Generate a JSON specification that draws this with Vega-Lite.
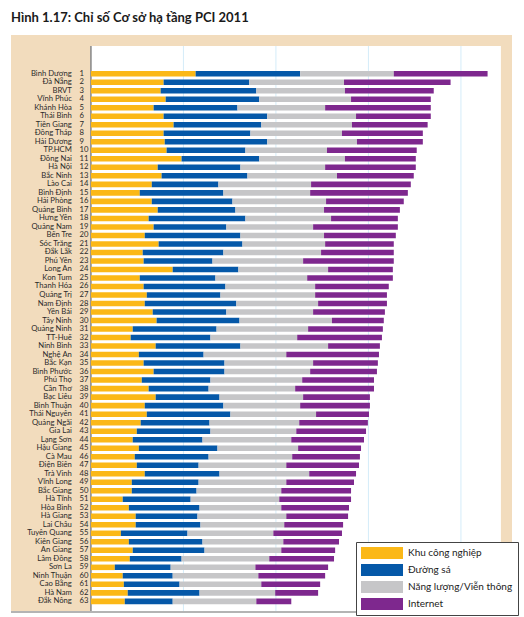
{
  "$schema": "https://vega.github.io/schema/vega-lite/v6.json",
  "autosize": {"type": "none"},
  "width": 501,
  "height": 577,
  "padding": {"left": 11, "top": 35, "right": 12, "bottom": 5},
  "background": "white",
  "title": {"text": "Hình 1.17:  Chỉ số Cơ sở hạ tầng PCI 2011", "anchor": "start", "font": "Lato", "fontSize": 13, "fontWeight": "bold", "color": "#1a1a1a", "offset": 0, "baseline": "alphabetic", "dx": 1},
  "config": {"view": {"fill": "#F2DCBD", "stroke": null}, "font": "Lato"},
  "data": {"values": [
    {"tinh": "Bình Dương", "hang": 1, "Khu công nghiệp": 5.66, "Đường sá": 5.65, "Năng lượng/Viễn thông": 5.06, "Internet": 5.07},
    {"tinh": "Đà Nẵng", "hang": 2, "Khu công nghiệp": 3.93, "Đường sá": 4.63, "Năng lượng/Viễn thông": 5.12, "Internet": 5.76},
    {"tinh": "BRVT", "hang": 3, "Khu công nghiệp": 3.77, "Đường sá": 5.17, "Năng lượng/Viễn thông": 4.79, "Internet": 4.80},
    {"tinh": "Vĩnh Phúc", "hang": 4, "Khu công nghiệp": 4.04, "Đường sá": 5.06, "Năng lượng/Viễn thông": 4.96, "Internet": 4.31},
    {"tinh": "Khánh Hòa", "hang": 5, "Khu công nghiệp": 3.39, "Đường sá": 4.53, "Năng lượng/Viễn thông": 4.74, "Internet": 5.71},
    {"tinh": "Thái Bình", "hang": 6, "Khu công nghiệp": 3.93, "Đường sá": 5.60, "Năng lượng/Viễn thông": 4.80, "Internet": 4.04},
    {"tinh": "Tiền Giang", "hang": 7, "Khu công nghiệp": 4.47, "Đường sá": 4.74, "Năng lượng/Viễn thông": 4.90, "Internet": 4.09},
    {"tinh": "Đồng Tháp", "hang": 8, "Khu công nghiệp": 3.93, "Đường sá": 4.69, "Năng lượng/Viễn thông": 4.95, "Internet": 4.37},
    {"tinh": "Hải Dương", "hang": 9, "Khu công nghiệp": 3.99, "Đường sá": 5.54, "Năng lượng/Viễn thông": 4.85, "Internet": 3.56},
    {"tinh": "TP.HCM", "hang": 10, "Khu công nghiệp": 4.09, "Đường sá": 4.26, "Năng lượng/Viễn thông": 4.41, "Internet": 4.85},
    {"tinh": "Đồng Nai", "hang": 11, "Khu công nghiệp": 4.90, "Đường sá": 4.20, "Năng lượng/Viễn thông": 4.63, "Internet": 3.83},
    {"tinh": "Hà Nội", "hang": 12, "Khu công nghiệp": 3.61, "Đường sá": 4.47, "Năng lượng/Viễn thông": 4.58, "Internet": 4.90},
    {"tinh": "Bắc Ninh", "hang": 13, "Khu công nghiệp": 3.82, "Đường sá": 4.64, "Năng lượng/Viễn thông": 4.84, "Internet": 4.15},
    {"tinh": "Lào Cai", "hang": 14, "Khu công nghiệp": 3.29, "Đường sá": 3.60, "Năng lượng/Viễn thông": 5.01, "Internet": 5.39},
    {"tinh": "Bình Định", "hang": 15, "Khu công nghiệp": 2.64, "Đường sá": 4.52, "Năng lượng/Viễn thông": 4.69, "Internet": 5.28},
    {"tinh": "Hải Phòng", "hang": 16, "Khu công nghiệp": 3.29, "Đường sá": 4.36, "Năng lượng/Viễn thông": 5.06, "Internet": 4.20},
    {"tinh": "Quảng Bình", "hang": 17, "Khu công nghiệp": 3.61, "Đường sá": 4.20, "Năng lượng/Viễn thông": 4.79, "Internet": 4.10},
    {"tinh": "Hưng Yên", "hang": 18, "Khu công nghiệp": 3.12, "Đường sá": 5.23, "Năng lượng/Viễn thông": 4.63, "Internet": 3.61},
    {"tinh": "Quảng Nam", "hang": 19, "Khu công nghiệp": 3.39, "Đường sá": 3.93, "Năng lượng/Viễn thông": 4.69, "Internet": 4.58},
    {"tinh": "Bến Tre", "hang": 20, "Khu công nghiệp": 2.91, "Đường sá": 5.17, "Năng lượng/Viễn thông": 4.52, "Internet": 3.88},
    {"tinh": "Sóc Trăng", "hang": 21, "Khu công nghiệp": 3.66, "Đường sá": 4.53, "Năng lượng/Viễn thông": 4.47, "Internet": 3.71},
    {"tinh": "Đắk Lắk", "hang": 22, "Khu công nghiệp": 2.80, "Đường sá": 4.36, "Năng lượng/Viễn thông": 5.28, "Internet": 3.93},
    {"tinh": "Phú Yên", "hang": 23, "Khu công nghiệp": 2.85, "Đường sá": 3.72, "Năng lượng/Viễn thông": 4.90, "Internet": 4.90},
    {"tinh": "Long An", "hang": 24, "Khu công nghiệp": 4.42, "Đường sá": 3.55, "Năng lượng/Viễn thông": 4.85, "Internet": 3.50},
    {"tinh": "Kon Tum", "hang": 25, "Khu công nghiệp": 2.64, "Đường sá": 4.09, "Năng lượng/Viễn thông": 4.96, "Internet": 4.63},
    {"tinh": "Thanh Hóa", "hang": 26, "Khu công nghiệp": 2.85, "Đường sá": 4.42, "Năng lượng/Viễn thông": 4.85, "Internet": 3.98},
    {"tinh": "Quảng Trị", "hang": 27, "Khu công nghiệp": 3.02, "Đường sá": 3.98, "Năng lượng/Viễn thông": 5.12, "Internet": 3.88},
    {"tinh": "Nam Định", "hang": 28, "Khu công nghiệp": 2.91, "Đường sá": 4.95, "Năng lượng/Viễn thông": 4.42, "Internet": 3.72},
    {"tinh": "Yên Bái", "hang": 29, "Khu công nghiệp": 3.34, "Đường sá": 3.98, "Năng lượng/Viễn thông": 4.69, "Internet": 3.88},
    {"tinh": "Tây Ninh", "hang": 30, "Khu công nghiệp": 3.55, "Đường sá": 4.48, "Năng lượng/Viễn thông": 5.00, "Internet": 2.80},
    {"tinh": "Quảng Ninh", "hang": 31, "Khu công nghiệp": 2.26, "Đường sá": 4.53, "Năng lượng/Viễn thông": 4.95, "Internet": 4.04},
    {"tinh": "TT-Huế", "hang": 32, "Khu công nghiệp": 2.15, "Đường sá": 4.31, "Năng lượng/Viễn thông": 4.69, "Internet": 4.58},
    {"tinh": "Ninh Bình", "hang": 33, "Khu công nghiệp": 3.50, "Đường sá": 4.58, "Năng lượng/Viễn thông": 4.74, "Internet": 2.80},
    {"tinh": "Nghệ An", "hang": 34, "Khu công nghiệp": 2.59, "Đường sá": 3.50, "Năng lượng/Viễn thông": 4.47, "Internet": 5.01},
    {"tinh": "Bắc Kạn", "hang": 35, "Khu công nghiệp": 2.85, "Đường sá": 4.37, "Năng lượng/Viễn thông": 4.79, "Internet": 3.50},
    {"tinh": "Bình Phước", "hang": 36, "Khu công nghiệp": 3.39, "Đường sá": 3.83, "Năng lượng/Viễn thông": 4.63, "Internet": 3.61},
    {"tinh": "Phú Thọ", "hang": 37, "Khu công nghiệp": 2.75, "Đường sá": 3.71, "Năng lượng/Viễn thông": 4.96, "Internet": 3.88},
    {"tinh": "Cần Thơ", "hang": 38, "Khu công nghiệp": 3.12, "Đường sá": 3.24, "Năng lượng/Viễn thông": 4.68, "Internet": 4.26},
    {"tinh": "Bạc Liêu", "hang": 39, "Khu công nghiệp": 3.50, "Đường sá": 3.45, "Năng lượng/Viễn thông": 4.52, "Internet": 3.61},
    {"tinh": "Bình Thuận", "hang": 40, "Khu công nghiệp": 2.91, "Đường sá": 4.25, "Năng lượng/Viễn thông": 4.15, "Internet": 3.77},
    {"tinh": "Thái Nguyên", "hang": 41, "Khu công nghiệp": 3.02, "Đường sá": 4.52, "Năng lượng/Viễn thông": 4.63, "Internet": 2.86},
    {"tinh": "Quảng Ngãi", "hang": 42, "Khu công nghiệp": 2.69, "Đường sá": 3.72, "Năng lượng/Viễn thông": 4.85, "Internet": 3.71},
    {"tinh": "Gia Lai", "hang": 43, "Khu công nghiệp": 2.48, "Đường sá": 3.98, "Năng lượng/Viễn thông": 4.64, "Internet": 3.77},
    {"tinh": "Lạng Sơn", "hang": 44, "Khu công nghiệp": 2.26, "Đường sá": 3.77, "Năng lượng/Viễn thông": 4.80, "Internet": 3.93},
    {"tinh": "Hậu Giang", "hang": 45, "Khu công nghiệp": 2.59, "Đường sá": 4.25, "Năng lượng/Viễn thông": 4.36, "Internet": 3.40},
    {"tinh": "Cà Mau", "hang": 46, "Khu công nghiệp": 2.37, "Đường sá": 3.99, "Năng lượng/Viễn thông": 4.52, "Internet": 3.66},
    {"tinh": "Điện Biên", "hang": 47, "Khu công nghiệp": 2.48, "Đường sá": 3.34, "Năng lượng/Viễn thông": 4.74, "Internet": 3.93},
    {"tinh": "Trà Vinh", "hang": 48, "Khu công nghiệp": 2.91, "Đường sá": 4.04, "Năng lượng/Viễn thông": 4.85, "Internet": 2.53},
    {"tinh": "Vĩnh Long", "hang": 49, "Khu công nghiệp": 2.21, "Đường sá": 3.61, "Năng lượng/Viễn thông": 4.74, "Internet": 3.66},
    {"tinh": "Bắc Giang", "hang": 50, "Khu công nghiệp": 2.21, "Đường sá": 3.50, "Năng lượng/Viễn thông": 4.58, "Internet": 3.77},
    {"tinh": "Hà Tĩnh", "hang": 51, "Khu công nghiệp": 1.72, "Đường sá": 3.67, "Năng lượng/Viễn thông": 4.79, "Internet": 3.88},
    {"tinh": "Hòa Bình", "hang": 52, "Khu công nghiệp": 2.05, "Đường sá": 3.82, "Năng lượng/Viễn thông": 4.42, "Internet": 3.66},
    {"tinh": "Hà Giang", "hang": 53, "Khu công nghiệp": 2.42, "Đường sá": 3.34, "Năng lượng/Viễn thông": 4.80, "Internet": 3.34},
    {"tinh": "Lai Châu", "hang": 54, "Khu công nghiệp": 2.42, "Đường sá": 3.50, "Năng lượng/Viễn thông": 4.53, "Internet": 3.18},
    {"tinh": "Tuyên Quang", "hang": 55, "Khu công nghiệp": 1.62, "Đường sá": 3.60, "Năng lượng/Viễn thông": 4.64, "Internet": 3.71},
    {"tinh": "Kiên Giang", "hang": 56, "Khu công nghiệp": 2.05, "Đường sá": 3.98, "Năng lượng/Viễn thông": 4.37, "Internet": 3.01},
    {"tinh": "An Giang", "hang": 57, "Khu công nghiệp": 2.26, "Đường sá": 3.88, "Năng lượng/Viễn thông": 4.15, "Internet": 2.91},
    {"tinh": "Lâm Đồng", "hang": 58, "Khu công nghiệp": 2.10, "Đường sá": 2.80, "Năng lượng/Viễn thông": 4.74, "Internet": 3.50},
    {"tinh": "Sơn La", "hang": 59, "Khu công nghiệp": 1.29, "Đường sá": 3.02, "Năng lượng/Viễn thông": 4.58, "Internet": 3.93},
    {"tinh": "Ninh Thuận", "hang": 60, "Khu công nghiệp": 1.72, "Đường sá": 2.70, "Năng lượng/Viễn thông": 4.63, "Internet": 3.61},
    {"tinh": "Cao Bằng", "hang": 61, "Khu công nghiệp": 1.78, "Đường sá": 3.01, "Năng lượng/Viễn thông": 4.42, "Internet": 3.18},
    {"tinh": "Hà Nam", "hang": 62, "Khu công nghiệp": 1.99, "Đường sá": 3.88, "Năng lượng/Viễn thông": 4.09, "Internet": 2.32},
    {"tinh": "Đắk Nông", "hang": 63, "Khu công nghiệp": 1.83, "Đường sá": 2.59, "Năng lượng/Viễn thông": 4.52, "Internet": 1.89}
  ]},
  "resolve": {"scale": {"y": "independent"}},
  "layer": [
    {
      "data": {"values": [{}]},
      "mark": {"type": "rect", "color": "white"},
      "encoding": {
        "x": {"datum": 0, "type": "quantitative", "scale": {"domain": [-4.32, 22.76], "nice": false, "zero": false}, "axis": null},
        "x2": {"datum": 22.16},
        "y": {"datum": 0, "type": "quantitative", "scale": {"domain": [0, 1], "nice": false, "zero": false}, "axis": null},
        "y2": {"datum": 0.981}
      }
    },
    {
      "data": {"values": [{"g": 5}, {"g": 10}, {"g": 15}, {"g": 20}]},
      "mark": {"type": "rule", "color": "#D4ECF9", "strokeWidth": 1},
      "encoding": {
        "x": {"field": "g", "type": "quantitative", "scale": {"domain": [-4.32, 22.76], "nice": false, "zero": false}, "axis": null},
        "y": {"datum": 0, "type": "quantitative", "scale": {"domain": [0, 1], "nice": false, "zero": false}, "axis": null},
        "y2": {"datum": 0.981}
      }
    },
    {
      "data": {"values": [{}]},
      "mark": {"type": "rule", "color": "#8C8C8C", "strokeWidth": 1.6},
      "encoding": {
        "x": {"datum": 0, "type": "quantitative", "scale": {"domain": [-4.32, 22.76], "nice": false, "zero": false}, "axis": null},
        "y": {"datum": 0, "type": "quantitative", "scale": {"domain": [0, 1], "nice": false, "zero": false}, "axis": null},
        "y2": {"datum": 0.981}
      }
    },
    {
      "data": {"values": [{}]},
      "mark": {"type": "rule", "color": "#B4B4B4", "strokeWidth": 2},
      "encoding": {
        "x": {"datum": -4.32, "type": "quantitative", "scale": {"domain": [-4.32, 22.76], "nice": false, "zero": false}, "axis": null},
        "x2": {"datum": 22.76},
        "y": {"datum": 0, "type": "quantitative", "scale": {"domain": [0, 1], "nice": false, "zero": false}, "axis": null}
      }
    },
    {
      "transform": [{"fold": ["Khu công nghiệp", "Đường sá", "Năng lượng/Viễn thông", "Internet"], "as": ["loai", "gt"]}],
      "mark": {"type": "bar"},
      "encoding": {
        "y": {"field": "tinh", "type": "nominal", "sort": null, "axis": null, "scale": {"type": "band", "range": [31.7, 573.4], "paddingInner": 0.35, "paddingOuter": 0.5, "align": 0.5}},
        "x": {"field": "gt", "type": "quantitative", "stack": "zero", "scale": {"domain": [-4.32, 22.76], "nice": false, "zero": false}, "axis": null},
        "order": {"field": "hang", "type": "quantitative"},
        "color": {
          "field": "loai", "type": "nominal",
          "sort": ["Khu công nghiệp", "Đường sá", "Năng lượng/Viễn thông", "Internet"],
          "scale": {"domain": ["Khu công nghiệp", "Đường sá", "Năng lượng/Viễn thông", "Internet"], "range": ["#FBB817", "#0558A8", "#C6C6C8", "#7E288E"]},
          "legend": {"title": null, "orient": "none", "legendX": 345, "legendY": 507, "fillColor": "white", "strokeColor": "#444444", "padding": 5, "symbolType": "M-1,-1H6V1H-1Z", "symbolSize": 144, "symbolStrokeWidth": 0, "symbolOpacity": 1, "labelFont": "Lato", "labelFontSize": 10, "labelColor": "#222222", "rowPadding": 5, "labelOffset": 35}
        }
      }
    },
    {
      "mark": {"type": "text", "align": "right", "baseline": "middle", "font": "Lato", "fontSize": 7.7, "color": "#2a2a2a"},
      "encoding": {
        "y": {"field": "tinh", "type": "nominal", "sort": null, "axis": null, "scale": {"type": "band", "range": [31.7, 573.4], "paddingInner": 0.35, "paddingOuter": 0.5, "align": 0.5}},
        "x": {"datum": -1.03, "type": "quantitative", "scale": {"domain": [-4.32, 22.76], "nice": false, "zero": false}, "axis": null},
        "text": {"field": "tinh"}
      }
    },
    {
      "mark": {"type": "text", "align": "left", "baseline": "middle", "font": "Lato", "fontSize": 7.7, "color": "#2a2a2a"},
      "encoding": {
        "y": {"field": "tinh", "type": "nominal", "sort": null, "axis": null, "scale": {"type": "band", "range": [31.7, 573.4], "paddingInner": 0.35, "paddingOuter": 0.5, "align": 0.5}},
        "x": {"datum": -0.62, "type": "quantitative", "scale": {"domain": [-4.32, 22.76], "nice": false, "zero": false}, "axis": null},
        "text": {"field": "hang"}
      }
    }
  ]
}
